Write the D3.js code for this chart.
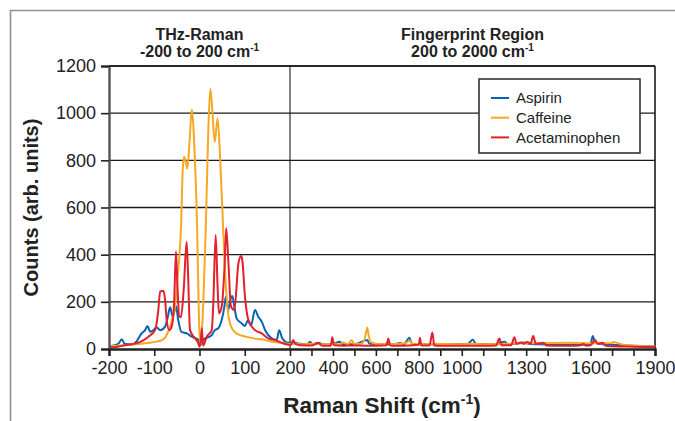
<!DOCTYPE html>
<html><head><meta charset="utf-8">
<script src="https://cdn.jsdelivr.net/npm/d3@7"></script>
<style>
html,body{margin:0;padding:0;background:#fff;}
svg{display:block;font-family:"Liberation Sans",Arial,Helvetica,sans-serif;}
</style></head>
<body>
<svg id="chart" width="675" height="421"></svg>
<script>
// ---------- DATA ----------
const seriesNames = ["Aspirin", "Caffeine", "Acetaminophen"];
const yTicks = [0, 200, 400, 600, 800, 1000, 1200];
const xTickValues = [-200,-100,0,100,200,300,400,500,600,700,800,900,1000,1100,1200,1300,1400,1500,1600,1700,1800,1900];
const xTickLabels = [-200,-100,0,100,200,400,600,800,1000,1300,1600,1900];

const aspirinShift = [-200,-187,-178,-172,-165,-150,-140,-135,-128,-120,-115,-109,-102,-95,-87,-76,-70,-65,-59,-52,-47,-40,-28,-17,-8,-2,2,6,12,20,27,34,41.5,49,55,58,63.6,68,72.5,77,82,93,100.5,106.5,114,122.6,130,137.5,145,159.5,170.6,176,183,196,207,
  220,250,280,293,305,332,350,380,400,433,445,500,560,570,620,680,712,730,756,768,800,850,900,950,1000,1030,1051,1065,1100,1150,1201,1215,1270,1290,1310,1350,1400,1500,1560,1600,1610,1620,1640,1700,1800,1900];
const aspirinCounts = [12,16,25,41,21,19,30,45,66,80,98,73,80,92,80,95,137,177,137,182,123,73,66,52,45,38,17,30,45,50,59,80,88,123,180,222,165,208,225,180,130,109,98,120,101,165,137,116,80,45,38,80,45,26,27,
  25,22,20,31,20,27,20,19,21,31,20,20,38,22,20,20,25,20,48,22,20,20,19,20,20,22,40,22,20,20,31,20,25,28,22,20,19,18,18,22,55,30,22,18,14,12];

const caffeineShift = [-200,-180,-160,-140,-120,-100,-85,-76,-70,-65,-60,-54,-47,-41,-37,-34,-30,-27,-22,-17,-14,-10,-5,-2,1,4,8,13.7,19.5,24,28.5,33.6,40,46,52.6,56,60,64,70,78,86,97,108,122,137,155,174,190,204,
  220,260,300,340,380,400,430,448,470,487,500,530,545,553,560,566,575,600,640,655,670,720,745,756,770,820,870,920,1000,1050,1100,1200,1300,1400,1500,1600,1700,1706,1750,1800,1900];
const caffeineCounts = [12,14,17,20,24,30,36,48,70,95,130,180,335,510,760,815,790,765,880,1016,960,793,496,200,15,40,180,496,934,1104,1005,878,977,793,496,350,220,140,95,72,62,55,50,44,41,33,27,24,21,
  22,20,22,20,19,22,20,28,20,38,20,22,35,65,90,60,30,22,20,30,20,22,28,36,22,20,22,21,20,22,20,22,24,25,26,24,25,30,18,14,12];

const acetaminophenShift = [-200,-180,-165,-150,-135,-120,-113,-98,-91,-87,-80,-76,-72.5,-67,-61.5,-56,-52,-49,-45,-41,-35,-28.4,-25,-21,-10,-4,0,3,5,8,16,27,30.5,35.7,40,43,49,55,59,63.6,69.6,77,86,92,94.6,100.5,108,122.6,137.5,152,167,189,204,
  215,225,250,300,332,350,390,397,405,450,500,550,600,650,658,666,700,750,800,805,812,850,863,872,900,1000,1100,1160,1175,1185,1230,1245,1255,1275,1290,1305,1320,1333,1345,1380,1395,1450,1500,1550,1566,1580,1600,1620,1635,1656,1670,1700,1800,1900];
const acetaminophenCounts = [7,10,16,20,27,42,52,80,165,243,247,208,123,80,95,200,413,280,140,135,250,455,300,80,45,30,10,40,88,14,52,80,194,483,264,151,180,335,512,377,180,165,363,394,377,222,123,80,66,45,38,21,17,
  38,22,16,15,25,14,14,50,16,14,15,14,14,16,45,15,14,15,18,48,15,15,70,15,14,14,14,15,45,16,16,50,22,28,22,30,22,55,22,27,15,14,14,15,21,14,16,38,22,27,14,12,10,8];

const colors = ["#0b62b3", "#f7a823", "#e3202b"];

// ---------- LAYOUT ----------
const svg = d3.select("#chart");
const L = 109, R = 655, T = 66, B = 349;
const x = d3.scaleLinear().domain([-200, 200, 1900]).range([L, 290, R]);
const y = d3.scaleLinear().domain([0, 1200]).range([B, T]);

// outer frame
svg.append("path").attr("d", `M10.5,421 L10.5,10.5 L675,10.5`).attr("fill","none").attr("stroke","#8e9392").attr("stroke-width",1.6);

// grid
svg.append("g").selectAll("line").data(yTicks.filter(d => d > 0)).join("line")
  .attr("x1", L).attr("x2", R).attr("y1", d => y(d)).attr("y2", d => y(d))
  .attr("stroke", "#1a1a1a").attr("stroke-width", 1.3);
// region divider
svg.append("line").attr("x1", x(200)).attr("x2", x(200)).attr("y1", T).attr("y2", B)
  .attr("stroke", "#1a1a1a").attr("stroke-width", 1.1);
// right border
svg.append("line").attr("x1", R).attr("x2", R).attr("y1", T).attr("y2", B)
  .attr("stroke", "#1a1a1a").attr("stroke-width", 1.6);

// lines
const series = [
  {name: seriesNames[0], shift: aspirinShift, counts: aspirinCounts, color: colors[0]},
  {name: seriesNames[1], shift: caffeineShift, counts: caffeineCounts, color: colors[1]},
  {name: seriesNames[2], shift: acetaminophenShift, counts: acetaminophenCounts, color: colors[2]}
];
const line = d3.line().x(d => x(d[0])).y(d => y(d[1])).curve(d3.curveMonotoneX);
[0, 1, 2].forEach(i => {
  const s = series[i];
  svg.append("path").datum(s.shift.map((v, j) => [v, s.counts[j]]))
    .attr("d", line).attr("fill", "none").attr("stroke", s.color)
    .attr("stroke-width", 2).attr("stroke-linejoin", "round");
});

// y axis
const yAxis = svg.append("g").attr("transform", `translate(${L},0)`)
  .call(d3.axisLeft(y).tickValues(yTicks).tickSize(8).tickPadding(5).tickFormat(d3.format("d")));
yAxis.select(".domain").attr("stroke", "#555").attr("stroke-width", 2.4);
yAxis.selectAll(".tick line").attr("stroke", "#222").attr("stroke-width", 1.6);
yAxis.selectAll(".tick text").attr("font-size", 18).attr("fill", "#222").style("font-family", "'Liberation Sans',Arial,sans-serif");

// x axis
const xAxis = svg.append("g").attr("transform", `translate(0,${B})`)
  .call(d3.axisBottom(x).tickValues(xTickValues).tickSize(7).tickPadding(5)
    .tickFormat(d => xTickLabels.includes(d) ? d : ""));
xAxis.select(".domain").attr("stroke", "#222").attr("stroke-width", 2.4);
xAxis.selectAll(".tick line").attr("stroke", "#222").attr("stroke-width", 1.6);
xAxis.selectAll(".tick text").attr("font-size", 18).attr("fill", "#222").style("font-family", "'Liberation Sans',Arial,sans-serif");
// top border
svg.append("line").attr("x1", L).attr("x2", R).attr("y1", T).attr("y2", T).attr("stroke", "#1a1a1a").attr("stroke-width", 1.6);

// region titles
function regionTitle(cx, line1, line2) {
  const g = svg.append("g").attr("font-weight", "bold").attr("font-size", 16).attr("fill", "#222").attr("text-anchor", "middle");
  g.append("text").attr("x", cx).attr("y", 40).text(line1);
  const t = g.append("text").attr("x", cx).attr("y", 57);
  t.append("tspan").text(line2);
  t.append("tspan").attr("font-size", 10).attr("dy", -6).text("-1");
}
regionTitle((x(-200) + x(200)) / 2, "THz-Raman", "-200 to 200 cm");
regionTitle((x(200) + x(1900)) / 2, "Fingerprint Region", "200 to 2000 cm");

// axis titles
svg.append("text").attr("transform", `translate(38,${(T + B) / 2}) rotate(-90)`)
  .attr("text-anchor", "middle").attr("font-weight", "bold").attr("font-size", 20).attr("fill", "#222")
  .text("Counts (arb. units)");
const xt = svg.append("text").attr("x", (L + R) / 2).attr("y", 413)
  .attr("text-anchor", "middle").attr("font-weight", "bold").attr("font-size", 22.5).attr("fill", "#222");
xt.append("tspan").text("Raman Shift (cm");
xt.append("tspan").attr("font-size", 14).attr("dy", -9).text("-1");
xt.append("tspan").attr("dy", 9).text(")");

// legend
const lg = svg.append("g").attr("transform", "translate(479,79)");
lg.append("rect").attr("width", 161).attr("height", 74).attr("fill", "#fff").attr("stroke", "#333").attr("stroke-width", 1.6);
series.forEach((s, i) => {
  const yy = 19 + i * 19.7;
  lg.append("line").attr("x1", 12).attr("x2", 30).attr("y1", yy).attr("y2", yy).attr("stroke", s.color).attr("stroke-width", 2);
  lg.append("text").attr("x", 37).attr("y", yy).attr("dy", "0.35em").attr("font-size", 15).attr("fill", "#222").text(s.name);
});
</script>
</body></html>
